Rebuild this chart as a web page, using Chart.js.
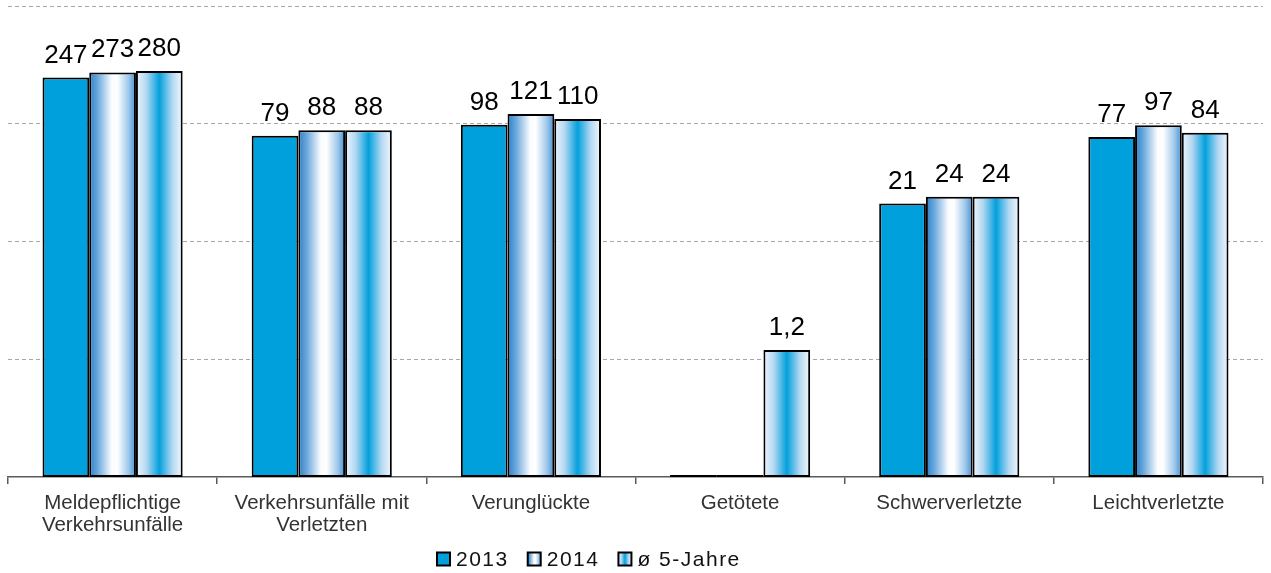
<!DOCTYPE html>
<html lang="de">
<head>
<meta charset="utf-8">
<title>Verkehrsunfälle 2013 / 2014 / ø 5-Jahre</title>
<script src="https://cdn.jsdelivr.net/npm/chart.js@4/dist/chart.umd.min.js"></script>
<style>
  html, body { margin: 0; padding: 0; background: #ffffff; }
  canvas { display: block; }
</style>
</head>
<body>
<canvas id="chart" width="1271" height="573"></canvas>
<script>
// Categories (multi-line axis labels)
const categories = [
  ['Meldepflichtige', 'Verkehrsunfälle'],
  ['Verkehrsunfälle mit', 'Verletzten'],
  'Verunglückte',
  'Getötete',
  'Schwerverletzte',
  'Leichtverletzte'
];

// Series
const seriesNames = ['2013', '2014', 'ø 5-Jahre'];
const values2013 = [247, 79, 98, 0, 21, 77];
const values2014 = [273, 88, 121, 0, 24, 97];
const valuesAvg  = [280, 88, 110, 1.2, 24, 84];

// Logarithmic value axis: grid lines at each decade
const gridValues = [0.1, 1, 10, 100, 1000];

const FONT = "'Liberation Sans', Arial, sans-serif";
const CAT_PCT = 0.67;

// Fill styles per series
const SOLID_BLUE = '#00a0dc';
const STOPS_2014 = [[0, '#2a80c8'], [0.18, '#6aa8dc'], [0.48, '#fafcff'], [0.6, '#ffffff'], [0.85, '#9cc6ea'], [1, '#3f8fd3']];
const STOPS_AVG  = [[0, '#f0f6fc'], [0.22, '#b4d8f2'], [0.5, '#03a0dd'], [0.78, '#b4d8f2'], [1, '#f4f8fd']];

function gradientAt(ctx2d, left, width, stops) {
  const g = ctx2d.createLinearGradient(left, 0, left + width, 0);
  stops.forEach(([o, c]) => g.addColorStop(o, c));
  return g;
}

// Horizontal gradient spanning exactly one bar
function barGradient(stops) {
  return (ctx) => {
    const chart = ctx.chart;
    if (ctx.type !== 'data' || !chart.chartArea) return '#9cc9ec';
    const xs = chart.scales.x;
    const center = xs.getPixelForValue(ctx.dataIndex);
    const catW = xs.width / categories.length;
    const barW = catW * CAT_PCT / seriesNames.length;
    const left = center - barW * seriesNames.length / 2 + ctx.datasetIndex * barW;
    return gradientAt(chart.ctx, left, barW, stops);
  };
}

const fills = [SOLID_BLUE, barGradient(STOPS_2014), barGradient(STOPS_AVG)];
const legendFills = [null, STOPS_2014, STOPS_AVG];

function formatValue(v) {
  return String(v).replace('.', ',');
}

// Value labels above the bars; zero values shown as a flat bar on the base line
const valueLabels = {
  id: 'valueLabels',
  afterDatasetsDraw(chart) {
    const c = chart.ctx;
    c.save();
    c.font = '26px ' + FONT;
    c.fillStyle = '#000000';
    c.textAlign = 'center';
    c.textBaseline = 'alphabetic';
    chart.data.datasets.forEach((ds, di) => {
      const meta = chart.getDatasetMeta(di);
      meta.data.forEach((el, i) => {
        const v = ds.data[i];
        const w = el.width;
        if (v === 0) {
          c.strokeStyle = '#000000';
          c.lineWidth = 2;
          c.beginPath();
          c.moveTo(el.x - w / 2, chart.chartArea.bottom - 1);
          c.lineTo(el.x + w / 2, chart.chartArea.bottom - 1);
          c.stroke();
          return;
        }
        c.fillText(formatValue(v), el.x, el.y - 15);
      });
    });
    c.restore();
  }
};

// Legend row below the axis labels
const bottomLegend = {
  id: 'bottomLegend',
  afterDraw(chart) {
    const c = chart.ctx;
    c.save();
    c.font = '21px ' + FONT;
    if ('letterSpacing' in c) c.letterSpacing = '1.5px';
    c.textBaseline = 'middle';
    c.textAlign = 'left';
    const box = 13;
    const cy = 559;
    let x = 437;
    chart.data.datasets.forEach((ds, di) => {
      const stops = legendFills[di];
      c.fillStyle = stops ? gradientAt(c, x, box, stops) : SOLID_BLUE;
      c.fillRect(x, cy - box / 2, box, box);
      c.strokeStyle = '#000000';
      c.lineWidth = 2;
      c.strokeRect(x, cy - box / 2, box, box);
      x += box + 6;
      c.fillStyle = '#111111';
      c.fillText(ds.label, x, cy + 1);
      x += c.measureText(ds.label).width + 19;
    });
    c.restore();
  }
};

const datasets = [values2013, values2014, valuesAvg].map((vals, i) => ({
  label: seriesNames[i],
  data: vals,
  backgroundColor: fills[i],
  borderColor: '#000000',
  borderWidth: 2,
  borderSkipped: false,
  categoryPercentage: CAT_PCT,
  barPercentage: 1.0
}));

new Chart(document.getElementById('chart'), {
  type: 'bar',
  data: { labels: categories, datasets },
  options: {
    responsive: false,
    animation: false,
    devicePixelRatio: 1,
    layout: { padding: { left: 8, right: 8, top: 6, bottom: 0 } },
    plugins: {
      legend: { display: false },
      tooltip: { enabled: false }
    },
    scales: {
      x: {
        offset: true,
        grid: {
          display: true,
          offset: true,
          drawOnChartArea: false,
          drawTicks: true,
          tickLength: 7,
          color: '#5a5a5a',
          lineWidth: 1.5
        },
        border: { display: true, color: '#5a5a5a', width: 1.5 },
        ticks: {
          font: { family: FONT, size: 20.5, lineHeight: 1.08 },
          color: '#333333',
          padding: 8,
          maxRotation: 0,
          autoSkip: false
        },
        afterFit(scale) { scale.height = 96; }
      },
      y: {
        type: 'logarithmic',
        min: 0.1,
        max: 1000,
        afterBuildTicks(scale) {
          scale.ticks = gridValues.map(v => ({ value: v }));
        },
        afterFit(scale) { scale.width = 0; },
        ticks: { display: false },
        grid: {
          drawTicks: false,
          color: (ctx) => (ctx.tick && ctx.tick.value === 0.1) ? 'rgba(0,0,0,0)' : '#a8a8a8',
          lineWidth: 1
        },
        border: { display: false, dash: [4, 3] }
      }
    }
  },
  plugins: [valueLabels, bottomLegend]
});
</script>
</body>
</html>
